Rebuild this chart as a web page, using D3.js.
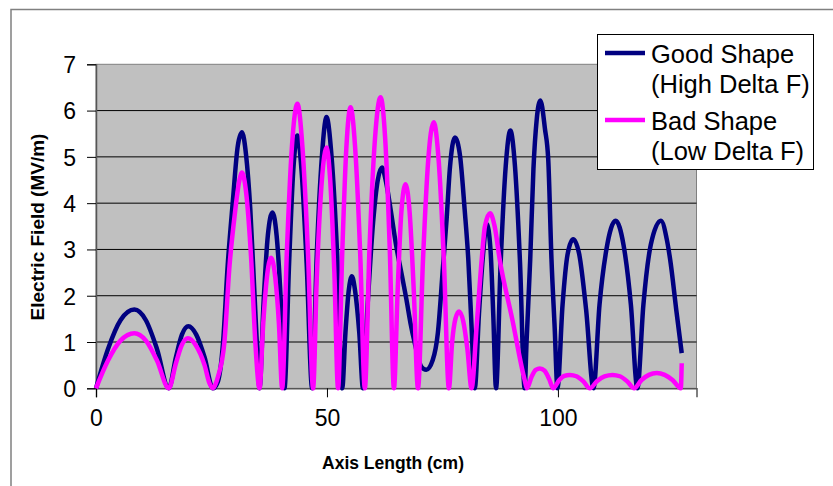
<!DOCTYPE html>
<html>
<head>
<meta charset="utf-8">
<script src="https://cdn.jsdelivr.net/npm/d3@7/dist/d3.min.js"></script>
<style>
  body { margin: 0; background: #fff; }
  text { font-family: "Liberation Sans", Arial, sans-serif; }
</style>
</head>
<body>
<svg id="chart" width="833" height="486"></svg>
<script>
// Good Shape (High Delta F)
var goodX = [0, 2.6, 5.3, 8.3, 10.8, 13.2, 15.75,
  17.3, 18.6, 20.0, 21.7, 23.5, 25.3,
  26.4, 27.5, 28.5, 29.6, 30.7, 31.6, 32.5, 33.4, 34.3, 35.0, 35.4,
  36.3, 37.2, 38.2, 39.1, 40.0, 40.8,
  41.8, 42.7, 43.6, 44.5, 45.6, 46.8,
  47.8, 48.9, 49.9, 51.0, 52.2, 53.3,
  54.0, 54.7, 55.4, 56.1, 57.0, 57.8,
  58.8, 60.0, 61.0, 61.9, 62.8, 63.8, 65.0, 66.1, 67.2, 68.1, 69.0, 70.4, 71.5, 72.9, 74.0,
  75.1, 75.9, 76.6, 77.7, 78.8, 79.8, 80.6, 81.3, 82.0,
  82.9, 83.8, 84.6, 85.4, 86.0, 86.6,
  87.6, 88.7, 89.7, 90.7, 91.8, 92.8,
  93.2, 94.0, 94.7, 95.4, 96.2, 97.2, 97.9, 98.6, 99.3, 99.9,
  101.0, 102.1, 103.3, 104.6, 106.1, 107.7,
  109.0, 110.5, 112.5, 114.2, 115.8, 117.2,
  118.5, 120.1, 122.3, 123.6, 124.3, 125.7, 126.8];
var goodY = [0, 0.85, 1.47, 1.70, 1.47, 0.85, 0,
  0.67, 1.16, 1.34, 1.16, 0.67, 0,
  0.15, 0.98, 2.64, 4.01, 5.24, 5.53, 5.03, 3.87, 2.06, 0.61, 0,
  1.9, 3.3, 3.8, 3.3, 1.9, 0,
  2.7, 4.7, 5.46, 4.7, 2.7, 0,
  2.9, 5.0, 5.86, 5.0, 2.9, 0,
  1.2, 2.1, 2.42, 2.1, 1.2, 0,
  1.8, 3.6, 4.5, 4.77, 4.45, 3.85, 3.07, 2.5, 1.92, 1.4, 0.98, 0.47, 0.40, 0.61, 1.19,
  2.6, 3.65, 4.74, 5.42, 5.03, 3.87, 2.78, 1.34, 0,
  1.6, 2.9, 3.55, 3.0, 1.6, 0,
  2.7, 4.8, 5.57, 4.8, 2.7, 0,
  0.98, 2.78, 4.74, 5.8, 6.22, 5.6, 4.95, 2.8, 1.3, 0,
  1.8, 2.9, 3.22, 2.9, 1.7, 0,
  1.8, 3.0, 3.62, 3.1, 1.8, 0,
  1.8, 3.1, 3.62, 3.2, 2.78, 1.63, 0.76];

// Bad Shape (Low Delta F)
var badX = [0, 2.6, 5.3, 8.3, 10.8, 13.2, 15.75,
  17.3, 18.6, 19.9, 21.6, 23.5, 24.6, 25.3, 26.0,
  26.4, 27.8, 28.9, 30.0, 31.1, 31.6, 32.5, 33.6, 34.5, 35.4,
  36.2, 37.0, 37.9, 38.8, 39.6, 40.3,
  41.3, 42.4, 43.6, 44.7, 45.9, 47.0,
  47.8, 48.9, 49.9, 50.7, 51.6, 52.4,
  53.3, 54.2, 55.1, 56.1, 57.2, 58.2,
  59.2, 60.4, 61.6, 62.6, 63.6, 64.5,
  65.3, 66.1, 67.0, 67.9, 68.8, 69.7,
  70.8, 71.9, 73.1, 74.2, 75.3, 76.4,
  77.1, 77.8, 78.6, 79.5, 80.4, 81.3,
  82.4, 83.5, 84.2, 85.3, 86.3, 87.4, 90.1, 92.8, 93.3,
  94.3, 95.2, 96.1, 97.1, 98.1, 99.0,
  100.3, 101.4, 102.6, 104.0, 105.5, 106.9,
  108.5, 110.1, 111.8, 113.4, 115.0, 116.5,
  118.1, 119.7, 121.4, 123.1, 124.8, 126.6, 126.8];
var badY = [0, 0.6, 1.03, 1.19, 1.03, 0.6, 0,
  0.54, 0.94, 1.08, 0.93, 0.5, 0.1, 0, 0.12,
  0.25, 1.0, 2.64, 3.72, 4.52, 4.66, 4.23, 2.78, 0.98, 0,
  1.4, 2.4, 2.82, 2.4, 1.4, 0,
  2.9, 5.2, 6.15, 5.2, 2.9, 0,
  2.4, 4.5, 5.2, 4.5, 2.5, 0,
  2.9, 5.2, 6.07, 5.2, 2.9, 0,
  3.0, 5.4, 6.29, 5.4, 3.0, 0,
  2.1, 3.8, 4.41, 3.8, 2.1, 0,
  2.8, 4.9, 5.75, 4.9, 2.8, 0,
  1.0, 1.5, 1.66, 1.45, 0.85, 0,
  1.34, 2.78, 3.5, 3.78, 3.5, 2.78, 1.5, 0.18, 0,
  0.25, 0.4, 0.43, 0.38, 0.2, 0,
  0.18, 0.27, 0.29, 0.26, 0.15, 0,
  0.16, 0.26, 0.29, 0.26, 0.15, 0,
  0.18, 0.29, 0.33, 0.29, 0.18, 0, 0.54];

var xTicks = [0, 50, 100];
var yTicks = [0, 1, 2, 3, 4, 5, 6, 7];
var legendLines = [["Good Shape", "(High Delta F)"], ["Bad Shape", "(Low Delta F)"]];
var colors = ["#000080", "#ff00ff"];

var svg = d3.select("#chart");
var plotL = 96, plotR = 696.5, plotT = 64.3, plotB = 388.3;

var x = d3.scaleLinear().domain([0, 130]).range([plotL, plotR]);
var y = d3.scaleLinear().domain([0, 7]).range([plotB, plotT]);

// outer chart frame (runs off the picture to the right and bottom)
svg.append("path")
  .attr("d", "M11,490V9.5H840")
  .attr("fill", "none")
  .attr("stroke", "#808080")
  .attr("stroke-width", 1.5);

svg.append("rect")
  .attr("x", plotL).attr("y", plotT)
  .attr("width", plotR - plotL).attr("height", plotB - plotT)
  .attr("fill", "#c0c0c0")
  .attr("stroke", "#808080")
  .attr("stroke-width", 1);

svg.append("g")
  .selectAll("line")
  .data(yTicks.slice(1, -1))
  .enter().append("line")
  .attr("x1", plotL).attr("x2", plotR)
  .attr("y1", function(d) { return y(d); })
  .attr("y2", function(d) { return y(d); })
  .attr("stroke", "#000")
  .attr("stroke-width", 1);

var yAxis = svg.append("g")
  .attr("transform", "translate(" + plotL + ",0)")
  .call(d3.axisLeft(y).tickValues(yTicks).tickSize(9).tickPadding(11).tickFormat(d3.format("d")));
var xAxis = svg.append("g")
  .attr("transform", "translate(0," + plotB + ")")
  .call(d3.axisBottom(x).tickValues(xTicks).tickSize(9).tickPadding(12).tickFormat(d3.format("d")));

[yAxis, xAxis].forEach(function(a) {
  a.select(".domain").attr("stroke", "#555").attr("stroke-width", 1.5);
  a.selectAll(".tick line").attr("stroke", "#000");
  a.selectAll("text")
    .attr("fill", "#000")
    .style("font-size", "23px")
    .style("font-family", "'Liberation Sans', Arial, sans-serif");
});
yAxis.selectAll("text").attr("dy", "0.36em");
xAxis.selectAll("text").attr("dy", "0.71em");

var line = d3.line()
  .x(function(d) { return x(d[0]); })
  .y(function(d) { return y(d[1]); })
  .curve(d3.curveMonotoneX);

var series = [d3.zip(goodX, goodY), d3.zip(badX, badY)];
svg.append("g")
  .selectAll("path")
  .data(series)
  .enter().append("path")
  .attr("d", line)
  .attr("fill", "none")
  .attr("stroke", function(d, i) { return colors[i]; })
  .attr("stroke-width", 4.5)
  .attr("stroke-linejoin", "round");

svg.append("text")
  .attr("x", 393).attr("y", 469)
  .attr("text-anchor", "middle")
  .style("font-size", "17.5px")
  .style("font-weight", "bold")
  .text("Axis Length (cm)");

svg.append("text")
  .attr("transform", "translate(44,227) rotate(-90)")
  .attr("text-anchor", "middle")
  .style("font-size", "19px")
  .style("font-weight", "bold")
  .text("Electric Field (MV/m)");

// legend
var legend = svg.append("g");
legend.append("rect")
  .attr("x", 597.5).attr("y", 34.5)
  .attr("width", 216).attr("height", 135)
  .attr("fill", "#fff")
  .attr("stroke", "#000")
  .attr("stroke-width", 1);

var item = legend.selectAll(".item")
  .data(legendLines)
  .enter().append("g")
  .attr("class", "item")
  .attr("transform", function(d, i) { return "translate(0," + (i * 67) + ")"; });
item.append("line")
  .attr("x1", 605).attr("x2", 645)
  .attr("y1", 53).attr("y2", 53)
  .attr("stroke", function(d, i) { return colors[i]; })
  .attr("stroke-width", 4.5);
item.append("text")
  .attr("x", 651).attr("y", 63)
  .style("font-size", "25.5px")
  .text(function(d) { return d[0]; });
item.append("text")
  .attr("x", 651).attr("y", 93)
  .style("font-size", "25.5px")
  .text(function(d) { return d[1]; });
</script>
</body>
</html>
